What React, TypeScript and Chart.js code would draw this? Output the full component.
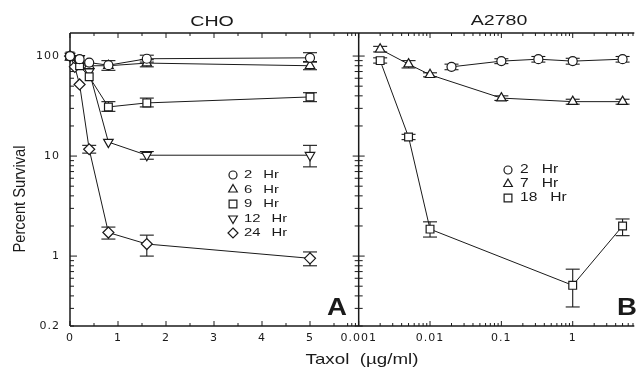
import React, { useEffect, useRef } from "react";
import { Chart, registerables } from "chart.js";
Chart.register(...registerables);

const FONT = "'Liberation Sans', Arial, Helvetica, sans-serif";
const TICK_FONT = "'DejaVu Sans', 'Liberation Sans', sans-serif";
const INK = "#1a1a1a";

// ---------- shared y axis ----------
const Y_MIN = 0.2;
const Y_MAX = 170;
const yTicks = [0.2, 1, 10, 100];
const yLabels = ["0.2", "1", "10", "100"];

// ---------- Panel A: CHO (linear dose) ----------
const choXTicks = [0, 1, 2, 3, 4, 5];
const choXLabels = ["0", "1", "2", "3", "4", "5"];
const CHO_X_MAX = 5.75;

const choDose = [0, 0.2, 0.4, 0.8, 1.6, 5];
const cho2Hr = [100, 93, 86, 81, 94, 96];
const cho2HrLo = [null, null, null, null, 87, 87];
const cho2HrHi = [null, null, null, null, 102, 108];
const cho6Hr = [97, 90, 80, 80, 85, 80];
const cho6HrLo = [null, null, null, 72, 78, 73];
const cho6HrHi = [null, null, null, 90, 92, 88];
const cho9Hr = [100, 80, 62, 31, 34, 39];
const cho9HrLo = [null, null, null, 28, 31, 35];
const cho9HrHi = [null, null, null, 35, 38, 43];
const cho12Hr = [100, 95, 70, 13.8, 10.2, 10.2];
const cho12HrLo = [null, null, null, null, 9.3, 7.8];
const cho12HrHi = [null, null, null, null, 11.1, 12.8];
const cho24Dose = [0, 0.1, 0.2, 0.4, 0.8, 1.6, 5];
const cho24Hr = [100, 78, 52, 11.7, 1.72, 1.32, 0.95];
const cho24HrLo = [null, null, null, 10.7, 1.48, 1.0, 0.8];
const cho24HrHi = [null, null, null, 12.8, 1.95, 1.62, 1.1];

const choLegendNums = ["2", "6", "9", "12", "24"];

// ---------- Panel B: A2780 (log dose) ----------
const a27XTicks = [0.001, 0.01, 0.1, 1];
const a27XLabels = ["0.001", "0.01", "0.1", "1"];
const A27_X_MIN = 0.000664;
const A27_X_MAX = 7.3;

const a2Dose = [0.02, 0.1, 0.33, 1, 5];
const a2Hr = [78, 89, 93, 89, 93];
const a2HrLo = [73, 84, 87, 83, 87];
const a2HrHi = [83, 94, 99, 95, 99];
const a7Dose = [0.002, 0.005, 0.01, 0.1, 1, 5];
const a7Hr = [117, 83, 65, 38, 35, 35];
const a7HrLo = [110, 76, 62, 36, 33, 33];
const a7HrHi = [125, 90, 68, 40, 37, 37];
const a18Dose = [0.002, 0.005, 0.01, 1, 5];
const a18Hr = [90, 15.5, 1.86, 0.51, 2.0];
const a18HrLo = [85, 14.6, 1.55, 0.31, 1.6];
const a18HrHi = [96, 16.5, 2.2, 0.74, 2.35];

const a27LegendNums = ["2", "7", "18"];

// ---------- helpers ----------
function line(ctx: any, x1: number, y1: number, x2: number, y2: number) {
  ctx.beginPath();
  ctx.moveTo(x1, y1);
  ctx.lineTo(x2, y2);
  ctx.stroke();
}

function drawText(ctx: any, text: string, x: number, y: number, o: any) {
  ctx.save();
  ctx.letterSpacing = "0px";
  ctx.translate(x, y);
  if (o.rotate) ctx.rotate(o.rotate);
  ctx.scale(o.sx ?? 1, o.sy ?? 1);
  ctx.font = `${o.bold ? "bold " : ""}${o.size}px ${o.family ?? FONT}`;
  ctx.fillStyle = INK;
  ctx.textAlign = o.align ?? "center";
  ctx.textBaseline = "middle";
  ctx.fillText(text, 0, 0);
  ctx.restore();
}

function textWidth(ctx: any, text: string, size: number, sx: number) {
  ctx.save();
  ctx.letterSpacing = "0px";
  ctx.font = `${size}px ${FONT}`;
  const w = ctx.measureText(text).width * sx;
  ctx.restore();
  return w;
}

function drawMarker(ctx: any, style: string, x: number, y: number, r: number, rot = 0) {
  ctx.save();
  ctx.beginPath();
  const rad = (rot * Math.PI) / 180;
  if (style === "circle") {
    ctx.arc(x, y, r, 0, Math.PI * 2);
  } else if (style === "triangle") {
    let a = rad;
    ctx.moveTo(x + Math.sin(a) * r, y - Math.cos(a) * r);
    a += (2 * Math.PI) / 3;
    ctx.lineTo(x + Math.sin(a) * r, y - Math.cos(a) * r);
    a += (2 * Math.PI) / 3;
    ctx.lineTo(x + Math.sin(a) * r, y - Math.cos(a) * r);
    ctx.closePath();
  } else if (style === "rect") {
    const s = Math.SQRT1_2 * r;
    ctx.rect(x - s, y - s, 2 * s, 2 * s);
  } else if (style === "rectRot") {
    ctx.moveTo(x, y - r);
    ctx.lineTo(x + r, y);
    ctx.lineTo(x, y + r);
    ctx.lineTo(x - r, y);
    ctx.closePath();
  }
  ctx.fillStyle = "#fff";
  ctx.fill();
  ctx.lineWidth = 1.2;
  ctx.strokeStyle = INK;
  ctx.stroke();
  ctx.restore();
}

function series(label: string, xs: number[], ys: number[], lo: any[], hi: any[], style: string, r: number, rot = 0) {
  return {
    label,
    data: xs.map((x, i) => ({ x, y: ys[i] })),
    errLow: lo,
    errHigh: hi,
    showLine: true,
    borderColor: INK,
    borderWidth: 1,
    pointStyle: style,
    pointRotation: rot,
    pointRadius: r,
    pointHoverRadius: r,
    pointBackgroundColor: "#fff",
    pointBorderColor: INK,
    pointBorderWidth: 1.2,
    clip: false,
  };
}

function drawErrorBars(chart: any) {
  const ctx = chart.ctx;
  const ys = chart.scales.y;
  ctx.save();
  ctx.strokeStyle = INK;
  ctx.lineWidth = 1.1;
  chart.data.datasets.forEach((ds: any, i: number) => {
    const meta = chart.getDatasetMeta(i);
    if (!ds.errLow) return;
    meta.data.forEach((pt: any, j: number) => {
      const lo = ds.errLow[j];
      const hi = ds.errHigh[j];
      if (lo == null || hi == null) return;
      const y1 = ys.getPixelForValue(lo);
      const y2 = ys.getPixelForValue(hi);
      line(ctx, pt.x, y1, pt.x, y2);
      line(ctx, pt.x - 7, y1, pt.x + 7, y1);
      line(ctx, pt.x - 7, y2, pt.x + 7, y2);
    });
  });
  ctx.restore();
}

function logMarks(min: number, max: number) {
  const out: { v: number; major: boolean }[] = [];
  for (let e = Math.floor(Math.log10(min)); e <= Math.ceil(Math.log10(max)); e++) {
    for (let m = 1; m <= 9; m++) {
      const v = m * Math.pow(10, e);
      if (v >= min * 0.999 && v <= max * 1.001) out.push({ v, major: m === 1 });
    }
  }
  return out;
}

function yScale(display: boolean) {
  return {
    type: "logarithmic",
    display,
    min: Y_MIN,
    max: Y_MAX,
    afterBuildTicks: (s: any) => {
      s.ticks = yTicks.map((v) => ({ value: v }));
    },
    ticks: {
      autoSkip: false,
      padding: 10,
      color: INK,
      font: { family: TICK_FONT, size: 11 },
      callback: (_v: any, i: number) => yLabels[i],
    },
    grid: { display: false, drawTicks: false, tickLength: 0 },
    border: { display: false },
    afterFit: (s: any) => {
      s.width = display ? 70 : 0;
    },
  };
}

const spacingPlugin = {
  id: "spacing",
  beforeDraw(chart: any) {
    chart.ctx.letterSpacing = "1px";
  },
};

// ---------- Panel A decorations ----------
const leftDecor = {
  id: "leftDecor",
  beforeDatasetsDraw(chart: any) {
    const ctx = chart.ctx;
    const { left, right, top, bottom } = chart.chartArea;
    const xs = chart.scales.x;
    const ys = chart.scales.y;
    ctx.save();
    ctx.strokeStyle = INK;
    ctx.lineWidth = 1.5;
    line(ctx, left, top, right, top);
    line(ctx, left, bottom, right, bottom);
    line(ctx, left, top, left, bottom);
    ctx.lineWidth = 1;
    for (let k = 0; k <= 11; k++) {
      const v = k * 0.5;
      const px = xs.getPixelForValue(v);
      const len = k % 2 === 0 ? 5 : 3;
      line(ctx, px, top, px, top + len);
      line(ctx, px, bottom, px, bottom - len);
    }
    for (const m of logMarks(Y_MIN, Y_MAX)) {
      const py = ys.getPixelForValue(m.v);
      line(ctx, left, py, left + (m.major ? 7 : 4), py);
    }
    ctx.restore();
    drawErrorBars(chart);
  },
  afterDraw(chart: any) {
    const ctx = chart.ctx;
    drawText(ctx, "CHO", 212, 22, { size: 14, sx: 1.4 });
    drawText(ctx, "Percent Survival", 21, 199, { size: 14, rotate: -Math.PI / 2, sx: 1.05, sy: 1.15 });
    drawText(ctx, "Taxol  (µg/ml)", 362, 360, { size: 15, sx: 1.25 });
    drawText(ctx, "A", 337, 309, { size: 23, bold: true, sx: 1.2 });
    const styles = [
      ["circle", 0],
      ["triangle", 0],
      ["rect", 0],
      ["triangle", 180],
      ["rectRot", 0],
    ];
    const radii = [4, 5, 5.5, 5, 5];
    choLegendNums.forEach((n, i) => {
      const y = 175 + i * 14.5;
      drawMarker(ctx, styles[i][0] as string, 233, y, radii[i], styles[i][1] as number);
      drawText(ctx, n, 244, y, { size: 11, sx: 1.35, align: "left" });
      const w = textWidth(ctx, n, 11, 1.35);
      drawText(ctx, "Hr", 244 + w + 11, y, { size: 11, sx: 1.35, align: "left" });
    });
  },
};

// ---------- Panel B decorations ----------
const rightDecor = {
  id: "rightDecor",
  beforeDatasetsDraw(chart: any) {
    const ctx = chart.ctx;
    const { left, right, top, bottom } = chart.chartArea;
    const xs = chart.scales.x;
    const ys = chart.scales.y;
    const ax = xs.getPixelForValue(0.001);
    ctx.save();
    ctx.strokeStyle = INK;
    ctx.lineWidth = 1.5;
    line(ctx, left, top, right, top);
    line(ctx, left, bottom, right, bottom);
    line(ctx, ax, top, ax, bottom);
    ctx.lineWidth = 1;
    for (const m of logMarks(A27_X_MIN, A27_X_MAX)) {
      const px = xs.getPixelForValue(m.v);
      const len = m.major ? 5 : 3;
      line(ctx, px, top, px, top + len);
      line(ctx, px, bottom, px, bottom - len);
    }
    for (const m of logMarks(Y_MIN, Y_MAX)) {
      const py = ys.getPixelForValue(m.v);
      const len = m.major ? 6 : 4;
      line(ctx, ax - len, py, ax + len, py);
    }
    ctx.restore();
    drawErrorBars(chart);
  },
  afterDraw(chart: any) {
    const ctx = chart.ctx;
    drawText(ctx, "A2780", 499, 21, { size: 14, sx: 1.4 });
    drawText(ctx, "B", 627, 309, { size: 23, bold: true, sx: 1.2 });
    const styles = ["circle", "triangle", "rect"];
    const radii = [4, 5, 5.5];
    a27LegendNums.forEach((n, i) => {
      const y = 170 + i * 14;
      drawMarker(ctx, styles[i], 508, y, radii[i]);
      drawText(ctx, n, 520, y, { size: 12, sx: 1.3, align: "left" });
      const w = textWidth(ctx, n, 12, 1.3);
      drawText(ctx, "Hr", 520 + w + 13, y, { size: 12, sx: 1.3, align: "left" });
    });
  },
};

function xTickOpts() {
  return {
    autoSkip: false,
    maxRotation: 0,
    padding: 6,
    color: INK,
    font: { family: TICK_FONT, size: 11 },
  };
}

function leftConfig(): any {
  return {
    type: "scatter",
    data: {
      datasets: [
        series("2 Hr", choDose, cho2Hr, cho2HrLo, cho2HrHi, "circle", 4.5),
        series("6 Hr", choDose, cho6Hr, cho6HrLo, cho6HrHi, "triangle", 5.5),
        series("9 Hr", choDose, cho9Hr, cho9HrLo, cho9HrHi, "rect", 5.5),
        series("12 Hr", choDose, cho12Hr, cho12HrLo, cho12HrHi, "triangle", 5.5, 180),
        series("24 Hr", cho24Dose, cho24Hr, cho24HrLo, cho24HrHi, "rectRot", 5.5),
      ],
    },
    options: {
      animation: false,
      responsive: false,
      maintainAspectRatio: false,
      events: [],
      layout: { padding: { left: 0, top: 33, right: 295, bottom: 0 } },
      plugins: { legend: { display: false }, tooltip: { enabled: false }, title: { display: false } },
      scales: {
        x: {
          type: "linear",
          min: 0,
          max: CHO_X_MAX,
          afterBuildTicks: (s: any) => {
            s.ticks = choXTicks.map((v) => ({ value: v }));
          },
          ticks: { ...xTickOpts(), callback: (_v: any, i: number) => choXLabels[i] },
          grid: { display: false, drawTicks: false, tickLength: 0 },
          border: { display: false },
          afterFit: (s: any) => {
            s.height = 42;
            s.paddingLeft = 0;
            s.paddingRight = 0;
          },
        },
        y: yScale(true),
      },
    },
    plugins: [spacingPlugin, leftDecor],
  };
}

function rightConfig(): any {
  return {
    type: "scatter",
    data: {
      datasets: [
        series("2 Hr", a2Dose, a2Hr, a2HrLo, a2HrHi, "circle", 4.5),
        series("7 Hr", a7Dose, a7Hr, a7HrLo, a7HrHi, "triangle", 5.5),
        series("18 Hr", a18Dose, a18Hr, a18HrLo, a18HrHi, "rect", 5.5),
      ],
    },
    options: {
      animation: false,
      responsive: false,
      maintainAspectRatio: false,
      events: [],
      layout: { padding: { left: 346, top: 33, right: 0, bottom: 0 } },
      plugins: { legend: { display: false }, tooltip: { enabled: false }, title: { display: false } },
      scales: {
        x: {
          type: "logarithmic",
          min: A27_X_MIN,
          max: A27_X_MAX,
          afterBuildTicks: (s: any) => {
            s.ticks = a27XTicks.map((v) => ({ value: v }));
          },
          ticks: { ...xTickOpts(), callback: (_v: any, i: number) => a27XLabels[i] },
          grid: { display: false, drawTicks: false, tickLength: 0 },
          border: { display: false },
          afterFit: (s: any) => {
            s.height = 42;
            s.paddingLeft = 0;
            s.paddingRight = 0;
          },
        },
        y: yScale(false),
      },
    },
    plugins: [spacingPlugin, rightDecor],
  };
}

export default function App() {
  const leftRef = useRef<HTMLCanvasElement>(null);
  const rightRef = useRef<HTMLCanvasElement>(null);
  useEffect(() => {
    const c1 = new Chart(leftRef.current as HTMLCanvasElement, leftConfig());
    const c2 = new Chart(rightRef.current as HTMLCanvasElement, rightConfig());
    return () => {
      c1.destroy();
      c2.destroy();
    };
  }, []);
  return (
    <div style={{ position: "fixed", left: 0, top: 0, width: 641, height: 368, background: "#fff", overflow: "hidden" }}>
      <canvas ref={leftRef} width={641} height={368} style={{ position: "absolute", left: 0, top: 0 }} />
      <canvas ref={rightRef} width={641} height={368} style={{ position: "absolute", left: 0, top: 0 }} />
    </div>
  );
}
